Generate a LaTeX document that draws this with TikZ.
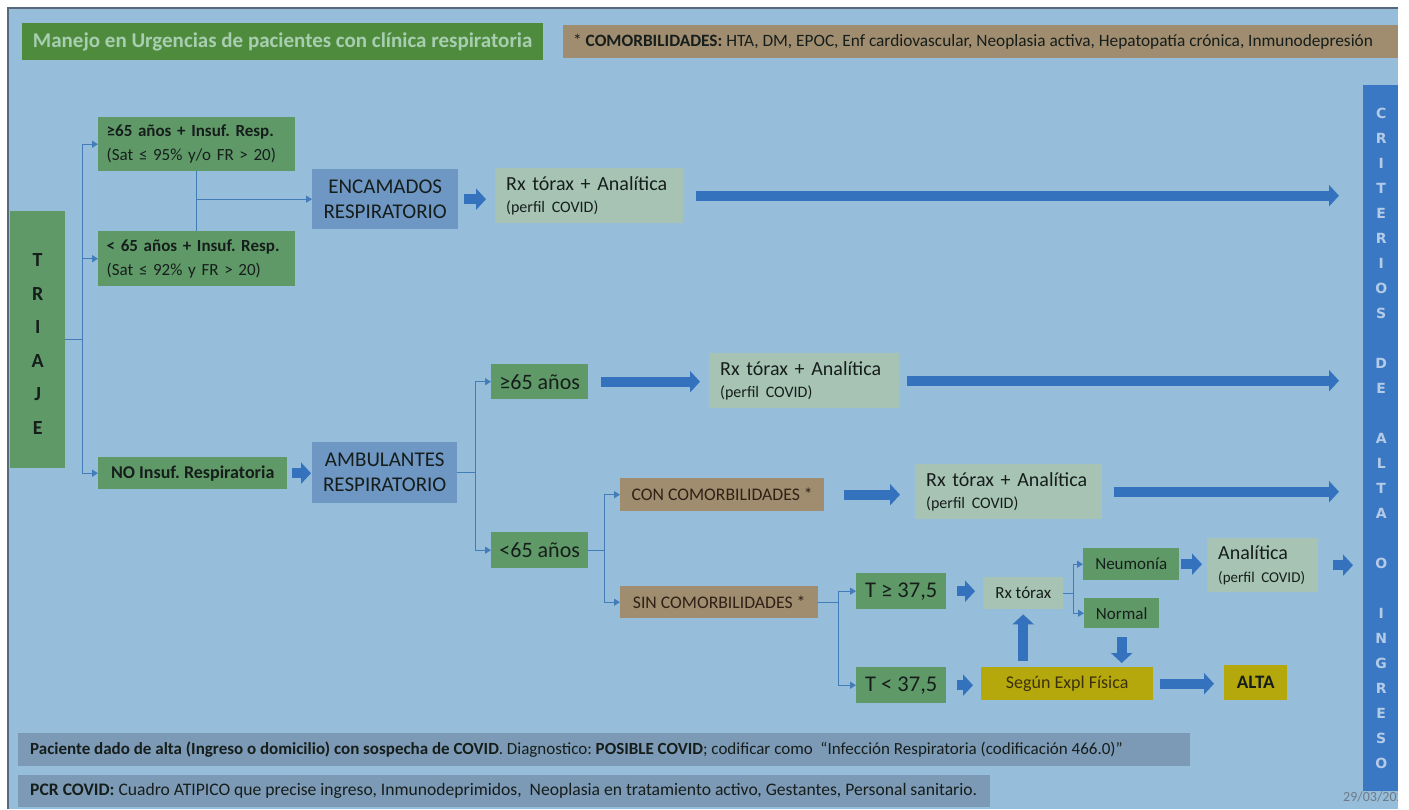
\documentclass[tikz,border=0pt]{standalone}
\usepackage{fontspec}
\setmainfont{Carlito}
\newfontfamily\critfont{DejaVu Sans}
\usetikzlibrary{arrows.meta, positioning}

\definecolor{bgblue}{RGB}{150,189,217}
\definecolor{framegray}{RGB}{88,104,124}
\definecolor{titlegreen}{RGB}{79,139,60}
\definecolor{titletext}{RGB}{168,206,178}
\definecolor{boxgreen}{RGB}{96,153,104}
\definecolor{boxblue}{RGB}{111,151,196}
\definecolor{boxpale}{RGB}{166,195,180}
\definecolor{boxtan}{RGB}{160,141,111}
\definecolor{boxolive}{RGB}{181,168,12}
\definecolor{boxnote}{RGB}{124,154,181}
\definecolor{critblue}{RGB}{58,120,195}
\definecolor{critletter}{RGB}{180,203,232}
\definecolor{arrowblue}{RGB}{52,114,190}
\definecolor{linkblue}{RGB}{66,125,186}
\definecolor{ink}{RGB}{22,30,28}
\definecolor{inkbrown}{RGB}{48,32,22}
\definecolor{inkolive}{RGB}{60,50,10}
\definecolor{dategray}{RGB}{110,122,134}

\begin{document}
\frenchspacing
\begin{tikzpicture}[
x=1pt, y=-1pt,
box/.style={
anchor=north west,
inner sep=0pt,
align=center,
text=ink
},
greenbox/.style={box, fill=boxgreen},
bluebox/.style={box, fill=boxblue, font=\fontsize{21}{25}\selectfont},
palebox/.style={box, fill=boxpale, align=left, inner xsep=11pt, font=\fontsize{20}{22}\selectfont},
tanbox/.style={box, fill=boxtan, text=inkbrown, font=\fontsize{17.7}{20}\selectfont},
olivebox/.style={box, fill=boxolive},
notebox/.style={box, fill=boxnote, inner xsep=12pt, font=\fontsize{17}{19}\selectfont},
wire/.style={draw=linkblue, line width=1.4pt},
link/.style={wire, -{Triangle[length=6pt,width=7pt]}},
fat/.style={draw=arrowblue, line width=10pt, -{Triangle[length=10pt,width=21pt]}}
]

\useasboundingbox (0,0) rectangle (1409,809);
\fill[white] (0,0) rectangle (1409,809);
\fill[bgblue] (8,8) rectangle (1398,809);
\draw[framegray, line width=2.5pt] (8,809) -- (8,8) -- (1398,8);

\node[box, fill=titlegreen, text=titletext, minimum width=521, minimum height=37,
font=\fontsize{21}{22}\selectfont\bfseries] (title) at (22,23)
{Manejo en Urgencias de pacientes con clínica respiratoria};

\node[box, fill=boxtan, inner xsep=10pt, minimum height=33,
font=\fontsize{17.3}{20}\selectfont] (comorb) at (563,25)
{\makebox[820pt][l]{* \textbf{COMORBILIDADES:} HTA, DM, EPOC, Enf cardiovascular, Neoplasia activa, Hepatopatía crónica, Inmunodepresión}};

\node[greenbox, minimum width=55, minimum height=257,
font=\fontsize{20}{33.5}\selectfont\bfseries] (triaje) at (10,211) {\rule{0pt}{22pt}T\\R\\I\\A\\J\\E};

\node[greenbox, align=left, text width=180, inner xsep=8.5pt, minimum height=54,
font=\fontsize{17}{24}\selectfont] (sat95) at (98,117)
{\textbf{≥65 años + Insuf. Resp.}\\(Sat ≤ 95\% y/o FR > 20)};

\node[greenbox, align=left, text width=180, inner xsep=8.5pt, minimum height=55,
font=\fontsize{17}{24}\selectfont] (sat92) at (98,231)
{\textbf{< 65 años + Insuf. Resp.}\\(Sat ≤ 92\% y FR > 20)};

\node[bluebox, minimum width=146, minimum height=60] (enc) at (312,169) {ENCAMADOS\\RESPIRATORIO};

\node[palebox, text width=166, minimum height=55] (rx1) at (495,168)
{Rx tórax + Analítica\\{\fontsize{16}{18}\selectfont (perfil COVID)}};

\node[greenbox, minimum width=189, minimum height=32,
font=\fontsize{18}{20}\selectfont\bfseries] (noins) at (98,457) {NO Insuf. Respiratoria};

\node[bluebox, minimum width=145, minimum height=61] (amb) at (312,442) {AMBULANTES\\RESPIRATORIO};

\node[greenbox, minimum width=97, minimum height=35,
font=\fontsize{22}{24}\selectfont] (ge65) at (491,364) {≥65 años};

\node[palebox, text width=168, minimum height=55] (rx2) at (709,353)
{Rx tórax + Analítica\\{\fontsize{16}{18}\selectfont (perfil COVID)}};

\node[greenbox, minimum width=97, minimum height=36,
font=\fontsize{22}{24}\selectfont] (lt65) at (491,532) {<65 años};

\node[tanbox, minimum width=204, minimum height=33] (con) at (620,478) {CON COMORBILIDADES *};

\node[palebox, text width=165, minimum height=55] (rx3) at (915,464)
{Rx tórax + Analítica\\{\fontsize{16}{18}\selectfont (perfil COVID)}};

\node[tanbox, minimum width=198, minimum height=32] (sin) at (620,586) {SIN COMORBILIDADES *};

\node[greenbox, minimum width=90, minimum height=36,
font=\fontsize{22.5}{24}\selectfont] (tge) at (856,573) {T ≥ 37,5};

\node[greenbox, minimum width=90, minimum height=36,
font=\fontsize{22.5}{24}\selectfont] (tlt) at (856,667) {T < 37,5};

\node[box, fill=boxpale, minimum width=80, minimum height=32,
font=\fontsize{17}{20}\selectfont] (rxs) at (983,577) {Rx tórax};

\node[greenbox, minimum width=96, minimum height=32,
font=\fontsize{17}{20}\selectfont] (neu) at (1083,548) {Neumonía};

\node[greenbox, minimum width=75, minimum height=30,
font=\fontsize{17}{20}\selectfont] (nor) at (1084,598) {Normal};

\node[palebox, text width=89, minimum height=54, font=\fontsize{20}{23}\selectfont] (ana) at (1207,538)
{Analítica\\{\fontsize{15}{18}\selectfont (perfil COVID)}};

\node[olivebox, text=inkolive, minimum width=172, minimum height=33,
font=\fontsize{18}{20}\selectfont] (segun) at (981,667) {Según Expl Física};

\node[olivebox, minimum width=63, minimum height=35,
font=\fontsize{19}{20}\selectfont\bfseries] (alta) at (1224,665) {ALTA};

\node[box, fill=critblue, text=critletter, minimum width=36, minimum height=706,
font=\critfont\bfseries\fontsize{14}{25}\selectfont] (crit) at (1363,85)
{C\\R\\I\\T\\E\\R\\I\\O\\S\\[25pt]D\\E\\[25pt]A\\L\\T\\A\\[25pt]O\\[25pt]I\\N\\G\\R\\E\\S\\O};

\node[notebox, minimum height=33] (note1) at (18,733)
{\makebox[1148pt][l]{\textbf{Paciente dado de alta (Ingreso o domicilio) con sospecha de COVID}. Diagnostico: \textbf{POSIBLE COVID}; codificar como\ \ “Infección Respiratoria (codificación 466.0)”}};

\node[notebox, minimum height=32, font=\fontsize{17.6}{19}\selectfont] (note2) at (18,775)
{\makebox[948pt][l]{\textbf{PCR COVID:} Cuadro ATIPICO que precise ingreso, Inmunodeprimidos,\ \ Neoplasia en tratamiento activo, Gestantes, Personal sanitario.}};

\node[anchor=west, inner sep=0pt, text=dategray, font=\fontsize{14}{16}\selectfont] (date) at (1343,797) {29/03/2020};

\draw[wire] (triaje.east) -- ++(17,0) coordinate (tj);
\draw[wire] (tj |- sat95) -- (tj |- noins);
\draw[link] (tj |- sat95) -- (sat95);
\draw[link] (tj |- sat92) -- (sat92);
\draw[link] (tj |- noins) -- (noins);

\draw[wire] (sat95) -- (sat92);
\draw[link] (sat95.south |- enc) -- (enc);

\draw[wire] (amb.east) -- ++(18,0) coordinate (ab);
\draw[wire] (ab |- ge65) -- (ab |- lt65);
\draw[link] (ab |- ge65) -- (ge65);
\draw[link] (ab |- lt65) -- (lt65);

\draw[wire] (lt65.east) -- ++(16,0) coordinate (lb);
\draw[wire] (lb |- con) -- (lb |- sin);
\draw[link] (lb |- con) -- (con);
\draw[link] (lb |- sin) -- (sin);

\draw[wire] (sin.east) -- ++(20,0) coordinate (sb);
\draw[wire] (sb |- tge) -- (sb |- tlt);
\draw[link] (sb |- tge) -- (tge);
\draw[link] (sb |- tlt) -- (tlt);

\draw[wire] (rxs.east) -- ++(10,0) coordinate (rb);
\draw[wire] (rb |- neu) -- (rb |- nor);
\draw[link] (rb |- neu) -- (neu);
\draw[link] (rb |- nor) -- (nor);

\draw[fat, shorten <=6pt, shorten >=9pt] (enc.east) -- (enc.east -| rx1.west);
\draw[fat, shorten <=13pt, shorten >=24pt] (rx1.east) -- (rx1.east -| crit.west);
\draw[fat, shorten <=5pt, shorten >=1pt] (noins.east) -- (noins.east -| amb.west);
\draw[fat, shorten <=13pt, shorten >=9pt] (ge65.east) -- (ge65.east -| rx2.west);
\draw[fat, shorten <=8pt, shorten >=24pt] (rx2.east) -- (rx2.east -| crit.west);
\draw[fat, shorten <=20pt, shorten >=15pt] (con.east) -- (con.east -| rx3.west);
\draw[fat, shorten <=12pt, shorten >=24pt] (rx3.east) -- (rx3.east -| crit.west);
\draw[fat, shorten <=11pt, shorten >=8pt] (tge.east) -- (tge.east -| rxs.west);
\draw[fat, shorten <=2pt, shorten >=5pt] (neu.east) -- (neu.east -| ana.west);
\draw[fat, shorten <=15pt, shorten >=10pt] (ana.east) -- (ana.east -| crit.west);
\draw[fat, shorten <=9pt, shorten >=4pt] (nor.south) -- (nor.south |- segun.north);
\draw[fat, shorten <=6pt, shorten >=5pt] (segun.north -| rxs.south) -- (rxs.south);
\draw[fat, shorten <=11pt, shorten >=8pt] (tlt.east) -- (tlt.east -| segun.west);
\draw[fat, shorten <=7pt, shorten >=10pt] (segun.east) -- (segun.east -| alta.west);

\fill[white] (1398,0) rectangle (1409,809);

\end{tikzpicture}
\end{document}
